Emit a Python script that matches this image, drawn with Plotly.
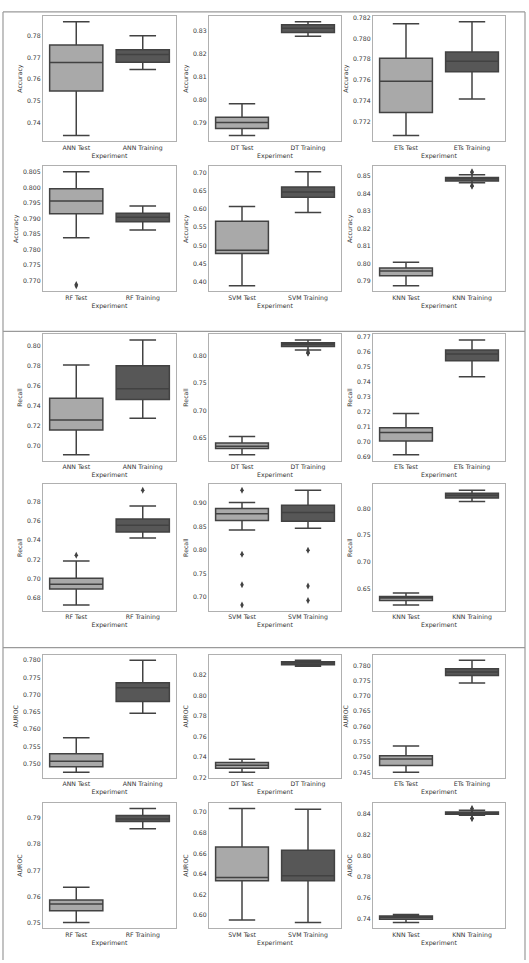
import plotly.graph_objects as go

# ---------------- data ----------------
models = ["ANN", "DT", "ETs", "RF", "SVM", "KNN"]
metrics = ["Accuracy", "Recall", "AUROC"]
splits = ["Test", "Training"]

# each entry: (lower whisker, Q1, median, Q3, upper whisker)
acc_test = [(0.7340, 0.7545, 0.7677, 0.7757, 0.7865),
            (0.7843, 0.7874, 0.7900, 0.7923, 0.7982),
            (0.7707, 0.7729, 0.7759, 0.7781, 0.7814),
            (0.7838, 0.7915, 0.7956, 0.7996, 0.8050),
            (0.3890, 0.4780, 0.4872, 0.5665, 0.6073),
            (0.7874, 0.7932, 0.7958, 0.7975, 0.8009)]
acc_train = [(0.7645, 0.7678, 0.7714, 0.7735, 0.7800),
             (0.8277, 0.8294, 0.8312, 0.8327, 0.8341),
             (0.7742, 0.7768, 0.7778, 0.7787, 0.7816),
             (0.7863, 0.7890, 0.7904, 0.7917, 0.7940),
             (0.5908, 0.6326, 0.6472, 0.6610, 0.7028),
             (0.8462, 0.8472, 0.8485, 0.8492, 0.8508)]
rec_test = [(0.6910, 0.7160, 0.7260, 0.7477, 0.7810),
            (0.6186, 0.6303, 0.6346, 0.6402, 0.6525),
            (0.6915, 0.7007, 0.7065, 0.7096, 0.7191),
            (0.6724, 0.6892, 0.6941, 0.7003, 0.7183),
            (0.8423, 0.8623, 0.8770, 0.8880, 0.9007),
            (0.6194, 0.6281, 0.6325, 0.6356, 0.6419)]
rec_train = [(0.7277, 0.7464, 0.7573, 0.7803, 0.8060),
             (0.8111, 0.8178, 0.8215, 0.8246, 0.8295),
             (0.7437, 0.7544, 0.7589, 0.7616, 0.7682),
             (0.7423, 0.7486, 0.7556, 0.7622, 0.7758),
             (0.8460, 0.8610, 0.8794, 0.8950, 0.9270),
             (0.8131, 0.8200, 0.8250, 0.8288, 0.8344)]
auc_test = [(0.7475, 0.7491, 0.7507, 0.7529, 0.7575),
            (0.7252, 0.7292, 0.7321, 0.7347, 0.7379),
            (0.7450, 0.7472, 0.7494, 0.7504, 0.7536),
            (0.7502, 0.7547, 0.7572, 0.7588, 0.7636),
            (0.5953, 0.6334, 0.6367, 0.6661, 0.7035),
            (0.7369, 0.7400, 0.7416, 0.7431, 0.7444)]
auc_train = [(0.7646, 0.7680, 0.7720, 0.7735, 0.7800),
             (0.8283, 0.8299, 0.8315, 0.8328, 0.8343),
             (0.7742, 0.7767, 0.7778, 0.7789, 0.7817),
             (0.7859, 0.7887, 0.7896, 0.7909, 0.7936),
             (0.5930, 0.6334, 0.6383, 0.6631, 0.7028),
             (0.8391, 0.8400, 0.8413, 0.8422, 0.8438)]

# outliers keyed by (metric, model, split)
outliers = {
    ("Accuracy", "RF", "Test"): [0.7688, 0.7684],
    ("Accuracy", "KNN", "Training"): [0.8525, 0.8521, 0.8443, 0.8447],
    ("Recall", "DT", "Training"): [0.8075, 0.8062, 0.8052],
    ("Recall", "RF", "Test"): [0.7245],
    ("Recall", "RF", "Training"): [0.7922],
    ("Recall", "SVM", "Test"): [0.9270, 0.7907, 0.7259, 0.6825],
    ("Recall", "SVM", "Training"): [0.7993, 0.7230, 0.6925],
    ("AUROC", "KNN", "Training"): [0.8454, 0.8450, 0.8359, 0.8362],
}

# tick step / format for each panel (metric rows x models)
tick_steps = {"Accuracy": [0.01, 0.01, 0.002, 0.005, 0.05, 0.01],
              "Recall": [0.02, 0.05, 0.01, 0.02, 0.05, 0.05],
              "AUROC": [0.005, 0.02, 0.005, 0.01, 0.02, 0.02]}
tick_fmts = {"Accuracy": [".2f", ".2f", ".3f", ".3f", ".2f", ".2f"],
             "Recall": [".2f", ".2f", ".2f", ".2f", ".2f", ".2f"],
             "AUROC": [".3f", ".2f", ".3f", ".2f", ".2f", ".2f"]}

stats = {("Accuracy", "Test"): acc_test, ("Accuracy", "Training"): acc_train,
         ("Recall", "Test"): rec_test, ("Recall", "Training"): rec_train,
         ("AUROC", "Test"): auc_test, ("AUROC", "Training"): auc_train}

# ---------------- layout geometry ----------------
W, H = 529, 963
col_px = [(43, 176), (209, 341), (373, 505)]
row_px = [(14, 140), (165, 291), (334, 461), (485, 612), (656, 780), (805, 931)]

fill = {"Test": "#a9a9a9", "Training": "#575757"}
LINE = "#424242"
FONT = "DejaVu Sans"
TXT = "#333333"

fig = go.Figure()
layout = dict(width=W, height=H, margin=dict(l=0, r=0, t=0, b=0),
              paper_bgcolor="white", plot_bgcolor="white", showlegend=False,
              font=dict(family=FONT, size=6.2, color=TXT))

idx = 0
for mi, metric in enumerate(metrics):
    for k, model in enumerate(models):
        idx += 1
        r = mi * 2 + k // 3
        c = k % 3
        xa = "x" if idx == 1 else f"x{idx}"
        ya = "y" if idx == 1 else f"y{idx}"
        allvals = []
        for s in splits:
            lo, q1, med, q3, hi = stats[(metric, s)][k]
            cat = f"{model} {s}"
            fig.add_trace(go.Box(
                x=[cat], q1=[q1], median=[med], q3=[q3],
                lowerfence=[lo], upperfence=[hi],
                width=0.8, whiskerwidth=0.5,
                fillcolor=fill[s], line=dict(color=LINE, width=1.5),
                boxpoints=False, xaxis=xa, yaxis=ya, hoverinfo="skip"))
            allvals += [lo, hi]
            ol = outliers.get((metric, model, s), [])
            if ol:
                fig.add_trace(go.Scatter(
                    x=[cat] * len(ol), y=ol, mode="markers",
                    marker=dict(symbol="diamond-tall", size=5, color=LINE),
                    xaxis=xa, yaxis=ya, hoverinfo="skip"))
                allvals += ol
        vmin, vmax = min(allvals), max(allvals)
        pad = 0.05 * (vmax - vmin)
        x0, x1 = col_px[c]
        y0, y1 = row_px[r]
        axstyle = dict(showline=True, mirror=True, linecolor="#b0b0b0",
                       linewidth=1.2, showgrid=False, zeroline=False,
                       ticks="")
        layout["xaxis" if idx == 1 else f"xaxis{idx}"] = dict(
            domain=[x0 / W, x1 / W], anchor=ya, type="category",
            categoryorder="array",
            categoryarray=[f"{model} {s}" for s in splits],
            range=[-0.5, 1.5],
            title=dict(text="Experiment", standoff=0,
                       font=dict(size=6.2, color=TXT)),
            tickfont=dict(size=6.2, color=TXT), **axstyle)
        layout["yaxis" if idx == 1 else f"yaxis{idx}"] = dict(
            domain=[1 - y1 / H, 1 - y0 / H], anchor=xa,
            range=[vmin - pad, vmax + pad],
            dtick=tick_steps[metric][k], tick0=0,
            tickformat=tick_fmts[metric][k],
            title=dict(text=metric, standoff=3,
                       font=dict(size=6.2, color=TXT)),
            tickfont=dict(size=6.2, color=TXT), **axstyle)

# section frames
frame_col = "#9a9a9a"
shapes = []
for yy in [10, 331, 649]:
    shapes.append(dict(type="line", xref="paper", yref="paper",
                       x0=3 / W, x1=525 / W, y0=1 - yy / H, y1=1 - yy / H,
                       line=dict(color=frame_col, width=1.2)))
for xx in [3, 525]:
    shapes.append(dict(type="line", xref="paper", yref="paper",
                       x0=xx / W, x1=xx / W, y0=1 - 10 / H, y1=0,
                       line=dict(color=frame_col, width=1.2)))
layout["shapes"] = shapes

fig.update_layout(**layout)
fig.write_html("out.html")
